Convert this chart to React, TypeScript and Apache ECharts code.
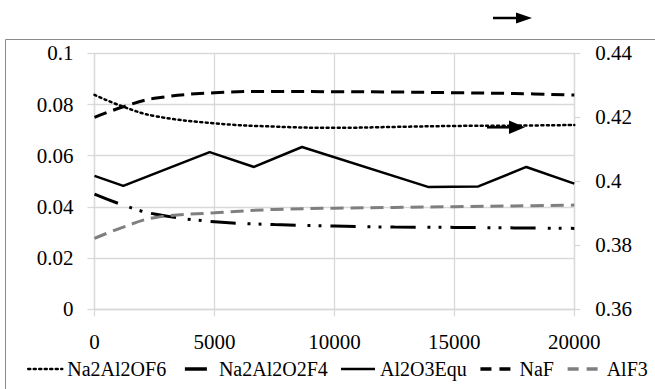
import React, { useEffect, useRef } from "react";
import * as echarts from "echarts";

// x positions (time)
const smoothX = [0, 1200, 2500, 5000, 7500, 10000, 12500, 15000, 17500, 20000];
const na2al2of6 = [0.427, 0.4233, 0.4204, 0.4181, 0.4171, 0.4167, 0.417, 0.4173, 0.4174, 0.4176]; // right axis
const naf = [0.075, 0.0791, 0.0824, 0.0846, 0.0851, 0.085, 0.0849, 0.0846, 0.0843, 0.0837];
const na2al2o2f4 = [0.045, 0.0407, 0.0372, 0.0342, 0.0331, 0.0325, 0.0321, 0.032, 0.0318, 0.0316];
const alf3 = [0.0277, 0.0321, 0.0358, 0.0377, 0.039, 0.0395, 0.0398, 0.0401, 0.0404, 0.0407];

const al2o3X = [0, 1200, 4800, 6650, 8650, 13900, 16000, 18000, 20000];
const al2o3Equ = [0.0521, 0.0482, 0.0614, 0.0556, 0.0634, 0.0478, 0.048, 0.0556, 0.0491];

const names = ["Na2Al2OF6", "Na2Al2O2F4", "Al2O3Equ", "NaF", "AlF3"];
const xTicks = { min: 0, max: 20000, interval: 5000 };
const leftTicks = { min: 0, max: 0.1, interval: 0.02 };
const rightTicks = { min: 0.36, max: 0.44, interval: 0.02 };

const pair = (xs: number[], ys: number[]) => xs.map((x, i) => [x, ys[i]]);

const FONT = "serif";
const GRID = "#d9d9d9";

const styles: any[] = [
  { color: "#000", width: 2.5, type: [2, 3.5], cap: "round" },
  { color: "#000", width: 3, type: [25, 12, 3, 8, 3, 9] },
  { color: "#000", width: 2.5, type: "solid" },
  { color: "#000", width: 3, type: [13, 7] },
  { color: "#7f7f7f", width: 3, type: [13, 7] },
];
const legendStyles: any[] = [
  { color: "#000", width: 2.5, type: [2, 3.5], cap: "round" },
  { color: "#000", width: 3.5, type: [0, 5, 22, 10] },
  { color: "#000", width: 2.5, type: "solid" },
  { color: "#000", width: 3.5, type: [11, 8] },
  { color: "#7f7f7f", width: 3.5, type: [11, 8] },
];

const richAxis = { t: { fontFamily: FONT, fontSize: 21, color: "#000" } };
const richLegend = { t: { fontFamily: FONT, fontSize: 20, color: "#000" } };

export default function App() {
  const ref = useRef<HTMLDivElement>(null);
  useEffect(() => {
    if (!ref.current) return;
    const chart = echarts.init(ref.current, undefined, { renderer: "svg" });
    const fmt = (v: number) => "{t|" + String(parseFloat(v.toFixed(2))) + "}";
    chart.setOption({
      animation: false,
      grid: { left: 94.5, right: 80.7, top: 53.3, bottom: 79.7, containLabel: false },
      xAxis: {
        type: "value",
        ...xTicks,
        axisLine: { show: true, lineStyle: { color: GRID, width: 1.3 } },
        axisTick: { show: true, length: 7, lineStyle: { color: GRID, width: 1.3 } },
        splitLine: { show: true, lineStyle: { color: GRID, width: 1.3 } },
        axisLabel: {
          fontFamily: FONT,
          fontSize: 21,
          margin: 22,
          formatter: (v: number) => "{t|" + String(v) + "}",
          rich: richAxis,
        },
      },
      yAxis: [
        {
          type: "value",
          ...leftTicks,
          axisLine: { show: true, lineStyle: { color: GRID, width: 1.3 } },
          axisTick: { show: true, length: 7, lineStyle: { color: GRID, width: 1.3 } },
          splitLine: { show: true, lineStyle: { color: GRID, width: 1.3 } },
          axisLabel: { fontFamily: FONT, fontSize: 21, margin: 21, formatter: fmt, rich: richAxis },
        },
        {
          type: "value",
          position: "right",
          ...rightTicks,
          axisLine: { show: true, lineStyle: { color: GRID, width: 1.3 } },
          axisTick: { show: true, length: 6, lineStyle: { color: GRID, width: 1.3 } },
          splitLine: { show: false },
          axisLabel: { fontFamily: FONT, fontSize: 21, margin: 21, formatter: fmt, rich: richAxis },
        },
      ],
      legend: {
        data: names.map((n, i) => ({
          name: n,
          itemStyle: { opacity: 0 },
          lineStyle: legendStyles[i],
        })),
        left: 22,
        top: 354,
        width: 640,
        itemWidth: 34,
        itemHeight: 14,
        itemGap: 12,
        formatter: (n: string) => "{t|" + n + "}",
        textStyle: { fontFamily: FONT, fontSize: 20, rich: richLegend },
      },
      series: names.map((n, i) => ({
        name: n,
        type: "line",
        yAxisIndex: i === 0 ? 1 : 0,
        smooth: i === 2 ? false : 0.4,
        symbol: "none",
        color: styles[i].color,
        lineStyle: styles[i],
        data:
          i === 0
            ? pair(smoothX, na2al2of6)
            : i === 1
            ? pair(smoothX, na2al2o2f4)
            : i === 2
            ? pair(al2o3X, al2o3Equ)
            : i === 3
            ? pair(smoothX, naf)
            : pair(smoothX, alf3),
      })),
      graphic: [
        {
          type: "rect",
          z: 0,
          silent: true,
          shape: { x: 5.5, y: 39.5, width: 700, height: 400 },
          style: { fill: "none", stroke: "#8a8a8a", lineWidth: 1 },
        },
        {
          type: "line",
          z: 100,
          shape: { x1: 493, y1: 18, x2: 518, y2: 18 },
          style: { stroke: "#000", lineWidth: 2.5 },
        },
        {
          type: "polygon",
          z: 100,
          shape: { points: [[516, 12.5], [532, 18], [516, 23.5]] },
          style: { fill: "#000" },
        },
        {
          type: "line",
          z: 100,
          shape: { x1: 487, y1: 127.3, x2: 511, y2: 127.3 },
          style: { stroke: "#000", lineWidth: 2.5 },
        },
        {
          type: "polygon",
          z: 100,
          shape: { points: [[509, 120.5], [525, 127.3], [509, 134]] },
          style: { fill: "#000" },
        },
      ],
    });
    return () => chart.dispose();
  }, []);
  return (
    <div
      ref={ref}
      style={{ position: "fixed", left: 0, top: 0, width: 655, height: 389, background: "#fff" }}
    />
  );
}
